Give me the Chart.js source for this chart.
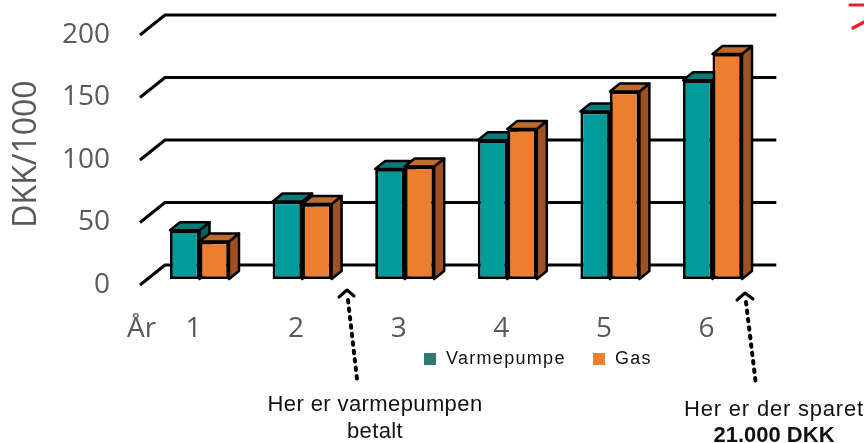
<!DOCTYPE html>
<html>
<head>
<meta charset="utf-8">
<script src="https://cdn.jsdelivr.net/npm/chart.js@4/dist/chart.umd.min.js"></script>
<style>
  html, body { margin: 0; padding: 0; background: #ffffff; }
  #wrap { position: relative; width: 864px; height: 443px; overflow: hidden; }
  #c { position: absolute; left: 0; top: 0; }
  .txt { position: absolute; white-space: nowrap; font-family: "Liberation Sans", Arial, sans-serif; color: #111; }
  .legend { position: absolute; top: 348px; font-family: "Liberation Sans", Arial, sans-serif; font-size: 18px; letter-spacing: 1.3px; color: #111; white-space: nowrap; }
  .legend span.sw { display: inline-block; width: 12px; height: 12px; vertical-align: -1px; margin-right: 10px; }
  svg { position: absolute; left: 0; top: 0; }
</style>
</head>
<body>
<div id="wrap">
  <canvas id="c" width="864" height="443"></canvas>
  <div class="txt" id="aar" style="left:127px; top:307px; font-family:'Open Sans',sans-serif; font-size:28px; color:#595959;">År</div>
  <div class="legend" style="left:424px;"><span class="sw" style="background:#317873"></span>Varmepumpe</div>
  <div class="legend" style="left:593px;"><span class="sw" style="background:#ED7D31"></span>Gas</div>
  <div class="txt" style="left:375px; top:390px; transform:translateX(-50%); font-size:22px; letter-spacing:0.4px; text-align:center; line-height:27px;">Her er varmepumpen<br>betalt</div>
  <div class="txt" style="left:774px; top:396px; transform:translateX(-50%); font-size:22px; letter-spacing:0.8px; text-align:center; line-height:26px;">Her er der sparet<br><b style="font-size:22px;letter-spacing:0">21.000 DKK</b></div>
  <svg width="864" height="443">
    <g stroke="#000" fill="none" stroke-width="3" stroke-linecap="round" stroke-linejoin="round">
      <polyline points="339,297 347,290 354,296"/>
      <polyline points="737,300 745,293 753,299"/>
    </g>
    <g stroke="#000" fill="none" stroke-width="4" stroke-linecap="round" stroke-dasharray="2.5 6">
      <line x1="348" y1="300" x2="357" y2="379"/>
      <line x1="746" y1="302" x2="756" y2="385"/>
    </g>
    <g stroke="#E8202A" fill="none" stroke-width="3.2" stroke-linecap="round">
      <line x1="850" y1="5" x2="866" y2="5"/>
      <line x1="853" y1="28" x2="866" y2="21"/>
    </g>
  </svg>
</div>
<script>
const categories = ['1', '2', '3', '4', '5', '6'];
const varmepumpe = [39, 62, 88, 111, 134, 159];
const gas = [30, 60, 90, 120, 150, 180];
const yTickValues = [0, 50, 100, 150, 200];
const seriesNames = ['Varmepumpe', 'Gas'];

const FRONT = { dx: -8.2, dy: 6 };
const BACK = { dx: 16.8, dy: -14 };
const DEPTH = { dx: 10, dy: -8 };
const GRID_RIGHT_EXTRA = 12.5;
const faceColors = [
  { top: '#0B7B79', side: '#06605E' },
  { top: '#C06A2B', side: '#9E5224' }
];

const threeD = {
  id: 'threeD',
  beforeDatasetsDraw(chart) {
    const ctx = chart.ctx;
    const y = chart.scales.y;
    const area = chart.chartArea;
    ctx.save();
    ctx.strokeStyle = '#000';
    ctx.lineWidth = 3;
    ctx.lineCap = 'butt';
    ctx.lineJoin = 'round';
    yTickValues.forEach(v => {
      const py = y.getPixelForValue(v);
      ctx.beginPath();
      ctx.moveTo(area.left + FRONT.dx, py + FRONT.dy);
      ctx.lineTo(area.left + BACK.dx, py + BACK.dy);
      ctx.lineTo(area.right + GRID_RIGHT_EXTRA, py + BACK.dy);
      ctx.stroke();
    });
    ctx.lineWidth = 2.5;
    const metas = [chart.getDatasetMeta(0), chart.getDatasetMeta(1)];
    for (let j = 0; j < categories.length; j++) {
      metas.forEach((meta, di) => {
        const bar = meta.data[j];
        const l = bar.x - bar.width / 2;
        const r = bar.x + bar.width / 2;
        const t = bar.y;
        const b = bar.base;
        ctx.beginPath();
        ctx.moveTo(r, t);
        ctx.lineTo(r + DEPTH.dx, t + DEPTH.dy);
        ctx.lineTo(r + DEPTH.dx, b + DEPTH.dy);
        ctx.lineTo(r, b);
        ctx.closePath();
        ctx.fillStyle = faceColors[di].side;
        ctx.fill();
        ctx.stroke();
        ctx.beginPath();
        ctx.moveTo(l, t);
        ctx.lineTo(l + DEPTH.dx, t + DEPTH.dy);
        ctx.lineTo(r + DEPTH.dx, t + DEPTH.dy);
        ctx.lineTo(r, t);
        ctx.closePath();
        ctx.fillStyle = faceColors[di].top;
        ctx.fill();
        ctx.stroke();
      });
    }
    ctx.restore();
  }
};

new Chart(document.getElementById('c'), {
  type: 'bar',
  data: {
    labels: categories,
    datasets: [
      { label: seriesNames[0], data: varmepumpe, backgroundColor: '#009A9A', borderColor: '#000', borderWidth: 2.8, borderSkipped: false },
      { label: seriesNames[1], data: gas, backgroundColor: '#ED7D31', borderColor: '#000', borderWidth: 2.8, borderSkipped: false }
    ]
  },
  options: {
    responsive: false,
    animation: false,
    devicePixelRatio: 1,
    layout: { padding: { left: 0, top: 29, right: 100.2, bottom: 0 } },
    datasets: { bar: { categoryPercentage: 0.575, barPercentage: 1.0 } },
    plugins: { legend: { display: false }, tooltip: { enabled: false } },
    scales: {
      x: {
        grid: { display: false, drawTicks: false },
        border: { display: false },
        ticks: { color: '#595959', font: { family: 'Open Sans', size: 28 }, padding: 33, labelOffset: -6, maxRotation: 0 },
        afterFit(scale) { scale.height = 164; scale.paddingLeft = 0; scale.paddingRight = 0; }
      },
      y: {
        min: 0, max: 200,
        afterBuildTicks(scale) { scale.ticks = yTickValues.map(v => ({ value: v })); },
        grid: { display: false, drawTicks: false },
        border: { display: false },
        ticks: { color: '#595959', font: { family: 'Open Sans', size: 28 }, padding: 38.2, labelOffset: 6 },
        title: { display: true, text: 'DKK/1000', color: '#595959', font: { family: 'Open Sans', size: 32 }, padding: { top: 8, bottom: 0 } },
        afterFit(scale) { scale.width = 148.2; scale.paddingTop = 0; scale.paddingBottom = 0; }
      }
    }
  },
  plugins: [threeD]
});
</script>
</body>
</html>
